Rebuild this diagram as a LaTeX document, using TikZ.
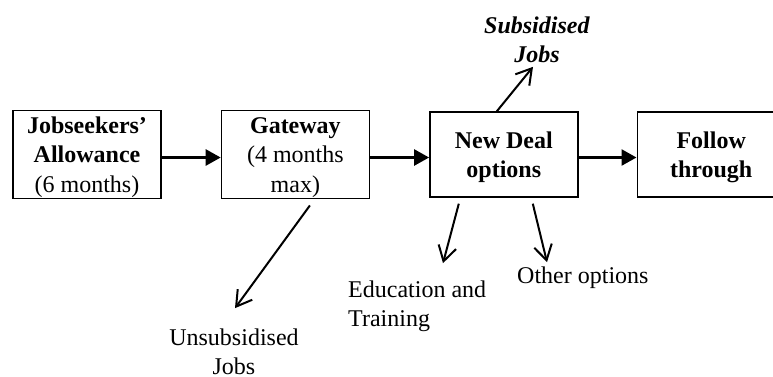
\documentclass[tikz,border=0pt]{standalone}
\usepackage{fontspec}
\setmainfont{Liberation Serif}
\usetikzlibrary{arrows.meta, positioning}

% rows with fixed strut spacing
\newcommand{\boxrows}[1]{\raisebox{-2.5pt}[\height][\depth]{\begin{tabular}{@{}c@{}}#1\end{tabular}}}
\newcommand{\noterows}[2]{\begin{tabular}[t]{@{}#1@{}}#2\end{tabular}}

\begin{document}
\begin{tikzpicture}[
    x=1pt, y=-1pt,
    node distance=59pt and 59pt,
    font=\fontsize{24}{29.5}\selectfont,
    stage/.style={rectangle, draw=black, line width=1.4pt, minimum width=148pt, minimum height=85pt, inner sep=0pt},
    note/.style={inner sep=0pt, anchor=base},
    flow/.style={-{Triangle[length=15pt, width=16pt]}, line width=2.6pt},
    branch/.style={-{Straight Barb[length=15pt, width=18pt]}, line width=2pt}
]
    \useasboundingbox (0,0) rectangle (773,376);

    \node (jsa) [stage] at (87,154.5) {\boxrows{\textbf{Jobseekers’}\\\textbf{Allowance}\\(6 months)}};
    \node (gate) [stage, right=of jsa] {\boxrows{\textbf{Gateway}\\(4 months\\max)}};
    \node (nd) [stage, right=of gate] {\boxrows{\textbf{New Deal}\\\textbf{options}}};
    \node (follow) [stage, right=58pt of nd] {\boxrows{\textbf{Follow}\\\textbf{through}}};

    % labels placed by first baseline
    \node (subjobs) [note] at (537,33) {\noterows{c}{\textbf{\textit{Subsidised}}\\\textbf{\textit{Jobs}}}};
    \node (unsub) [note] at (234,345) {\noterows{c}{Unsubsidised\\Jobs}};
    \node (edu) [note, anchor=base west] at (348,297) {\noterows{l}{Education and\\Training}};
    \node (other) [note, anchor=base west] at (517,283) {\noterows{l}{Other options}};

    \draw [flow] ([yshift=-3pt]jsa.east) -- ([yshift=-3pt]gate.west);
    \draw [flow] ([yshift=-3pt]gate.east) -- ([yshift=-3pt]nd.west);
    \draw [flow] ([yshift=-3pt]nd.east) -- ([yshift=-3pt]follow.west);

    \draw [branch] ([xshift=-7pt]nd.north) -- ([xshift=-4pt, yshift=4.7pt]subjobs.south);
    \draw [branch] ([xshift=14.5pt, yshift=-6pt]gate.south) -- ([xshift=1pt, yshift=16pt]unsub.north);
    \draw [branch] ([xshift=-45pt, yshift=-6pt]nd.south) -- ([xshift=95pt, yshift=13pt]edu.north west);
    \draw [branch] ([xshift=29pt, yshift=-6pt]nd.south) -- ([xshift=30pt]other.north west);
\end{tikzpicture}
\end{document}
